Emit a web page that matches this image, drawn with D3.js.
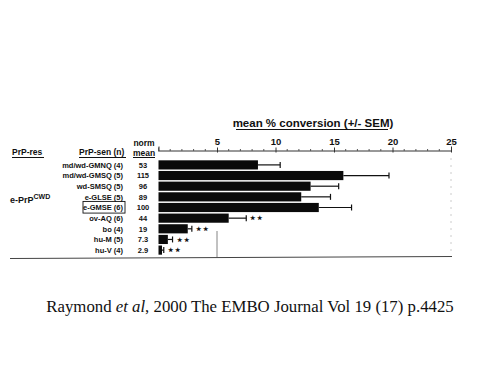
<!DOCTYPE html>
<html>
<head>
<meta charset="utf-8">
<style>
body { margin: 0; background: #fff; }
text { font-family: "Liberation Sans", Arial, sans-serif; font-weight: bold; fill: #111; }
.caption { font-family: "Liberation Serif", "Times New Roman", serif; font-weight: normal; font-size: 16.8px; }
</style>
<script src="https://d3js.org/d3.v7.min.js"></script>
</head>
<body>
<script>
var labels = ["md/wd-GMNQ (4)", "md/wd-GMSQ (5)", "wd-SMSQ (5)", "e-GLSE (5)", "e-GMSE (6)",
	"ov-AQ (6)", "bo (4)", "hu-M (5)", "hu-V (4)"];
var normMean = ["53", "115", "96", "89", "100", "44", "19", "7.3", "2.9"];
var meanConv = [8.5, 15.8, 13.0, 12.2, 13.7, 6.0, 2.5, 0.8, 0.3];
var semTop = [10.4, 19.7, 15.4, 14.7, 16.5, 7.5, 2.85, 1.2, 0.45];
var signif = [false, false, false, false, false, true, true, true, true];
var xTicks = [5, 10, 15, 20, 25];

var width = 500, height = 375;

var svg = d3.select("body").append("svg")
	.attr("width", width)
	.attr("height", height);

var x = d3.scaleLinear().domain([0, 25]).range([158.5, 451]);
var y = d3.scaleBand().domain(labels).range([160, 255]).paddingInner(0.14).paddingOuter(0.03);

var axisY = 150.5;

// top axis: major ticks
var ax = svg.append("g").attr("transform", "translate(0," + axisY + ")");
ax.call(d3.axisTop(x).tickValues(xTicks).tickSize(4).tickFormat(d3.format("d")));
ax.select(".domain").attr("stroke", "#333").attr("stroke-width", 1);
ax.selectAll(".tick line").attr("stroke", "#333").attr("y2", -3).attr("y1", 2);
ax.selectAll(".tick text").attr("font-size", 9.5).attr("y", -6)
	.style("font-family", "'Liberation Sans', Arial, sans-serif").style("font-weight", "bold").attr("fill", "#111");

// minor ticks every unit
svg.append("g").selectAll("line")
	.data(d3.range(1, 25).filter(function(d) { return d % 5 !== 0; }))
	.enter().append("line")
	.attr("x1", function(d) { return x(d); })
	.attr("x2", function(d) { return x(d); })
	.attr("y1", axisY - 1.5)
	.attr("y2", axisY + 0.5)
	.attr("stroke", "#555");
// tick at 0
svg.append("line").attr("x1", x(0)).attr("x2", x(0)).attr("y1", axisY - 3).attr("y2", axisY + 1).attr("stroke", "#555");

// title
svg.append("text")
	.attr("x", 313).attr("y", 127)
	.attr("text-anchor", "middle")
	.attr("font-size", 11.5)
	.text("mean % conversion (+/- SEM)");
svg.append("line").attr("x1", 236).attr("x2", 388).attr("y1", 129.5).attr("y2", 129.5).attr("stroke", "#111").attr("stroke-width", 1);

// faint dotted verticals
svg.append("line").attr("x1", x(25)).attr("x2", x(25)).attr("y1", 158).attr("y2", 257)
	.attr("stroke", "#ccc").attr("stroke-dasharray", "2,5");
svg.append("line").attr("x1", x(5)).attr("x2", x(5)).attr("y1", 231).attr("y2", 257)
	.attr("stroke", "#666").attr("stroke-width", 0.8);

// bottom rule
svg.append("line").attr("x1", 10).attr("x2", 452).attr("y1", 258.5).attr("y2", 256.5)
	.attr("stroke", "#444").attr("stroke-width", 1);

// bars
var rows = svg.append("g").selectAll("g").data(labels).enter().append("g");

rows.append("rect")
	.attr("x", x(0))
	.attr("y", function(d) { return y(d); })
	.attr("height", y.bandwidth())
	.attr("width", function(d, i) { return x(meanConv[i]) - x(0); })
	.attr("fill", "#0a0a0a");

// error bars
rows.append("line")
	.attr("x1", function(d, i) { return x(meanConv[i]); })
	.attr("x2", function(d, i) { return x(semTop[i]); })
	.attr("y1", function(d) { return y(d) + y.bandwidth() / 2; })
	.attr("y2", function(d) { return y(d) + y.bandwidth() / 2; })
	.attr("stroke", "#111").attr("stroke-width", 1.2);
rows.append("line")
	.attr("x1", function(d, i) { return x(semTop[i]); })
	.attr("x2", function(d, i) { return x(semTop[i]); })
	.attr("y1", function(d) { return y(d) + y.bandwidth() / 2 - 3; })
	.attr("y2", function(d) { return y(d) + y.bandwidth() / 2 + 3; })
	.attr("stroke", "#111").attr("stroke-width", 1.2);

// significance stars
rows.filter(function(d, i) { return signif[i]; })
	.append("text")
	.attr("x", function(d) { var i = labels.indexOf(d); return x(semTop[i]) + 4; })
	.attr("y", function(d) { return y(d) + y.bandwidth() / 2 + 2.3; })
	.attr("font-size", 6)
	.attr("letter-spacing", 2)
	.text("\u2605\u2605");

// row labels
rows.append("text")
	.attr("x", 123)
	.attr("y", function(d) { return y(d) + y.bandwidth() / 2 + 2.8; })
	.attr("text-anchor", "end")
	.attr("font-size", 7.5)
	.attr("fill", "#222")
	.text(function(d) { return d; });

rows.append("text")
	.attr("x", 143)
	.attr("y", function(d) { return y(d) + y.bandwidth() / 2 + 2.8; })
	.attr("text-anchor", "middle")
	.attr("font-size", 7.5)
	.text(function(d, i) { return normMean[i]; });

// box around reference strain
var refRow = labels[4];
svg.append("rect")
	.attr("x", 83).attr("y", y(refRow) - 1.5)
	.attr("width", 42).attr("height", y.bandwidth() + 2.5)
	.attr("fill", "none").attr("stroke", "#111").attr("stroke-width", 0.9);

// column headers
svg.append("text").attr("x", 12).attr("y", 155).attr("font-size", 8.5).text("PrP-res");
svg.append("line").attr("x1", 12).attr("x2", 44).attr("y1", 157.5).attr("y2", 157.5).attr("stroke", "#111");
svg.append("text").attr("x", 79).attr("y", 155).attr("font-size", 8.5).text("PrP-sen (n)");
svg.append("line").attr("x1", 79).attr("x2", 126).attr("y1", 157.5).attr("y2", 157.5).attr("stroke", "#111");
svg.append("text").attr("x", 144).attr("y", 146).attr("text-anchor", "middle").attr("font-size", 8.5).text("norm");
svg.append("text").attr("x", 144).attr("y", 155.5).attr("text-anchor", "middle").attr("font-size", 8.5).text("mean");
svg.append("line").attr("x1", 133).attr("x2", 155).attr("y1", 157.5).attr("y2", 157.5).attr("stroke", "#111");

var grp = svg.append("text").attr("x", 10).attr("y", 203).attr("font-size", 9);
grp.append("tspan").text("e-PrP");
grp.append("tspan").attr("dy", -4).attr("font-size", 7).text("CWD");

// caption
var cap = svg.append("text").attr("class", "caption")
	.attr("x", 250).attr("y", 312).attr("text-anchor", "middle");
cap.append("tspan").text("Raymond ");
cap.append("tspan").style("font-style", "italic").text("et al");
cap.append("tspan").text(", 2000 The EMBO Journal Vol 19 (17) p.4425");
</script>
</body>
</html>
